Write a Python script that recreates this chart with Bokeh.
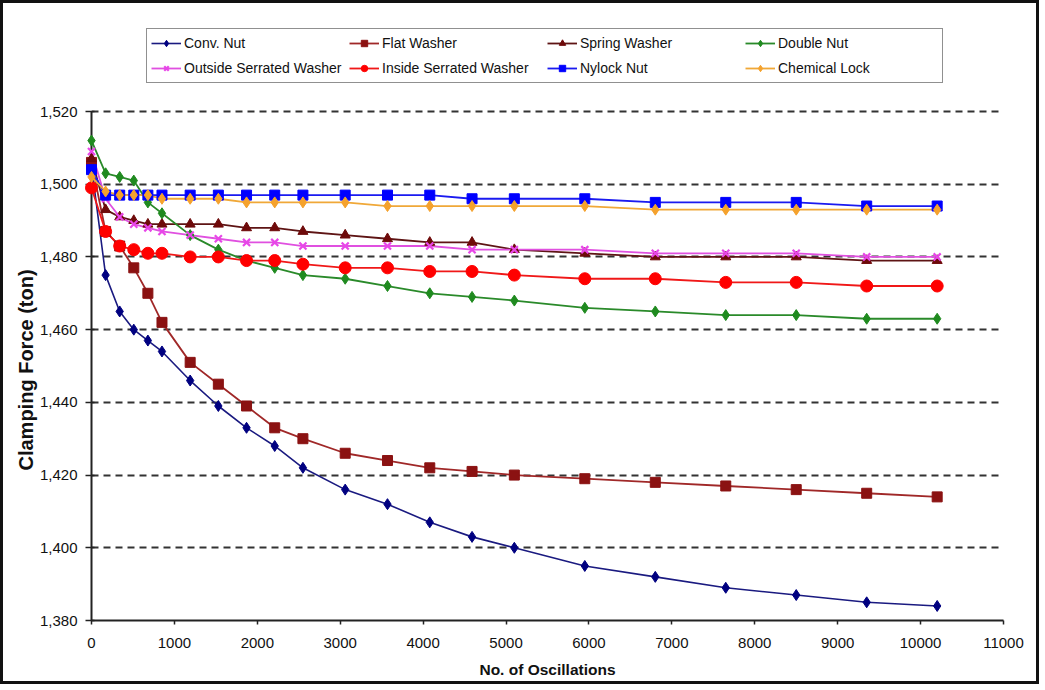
from bokeh.plotting import figure
from bokeh.models import Legend, LegendItem, FixedTicker, NumeralTickFormatter, Range1d, Title
from bokeh.embed import file_html
from bokeh.resources import INLINE

# ---- data ----
oscillations = [0, 170, 340, 510, 680, 850, 1190, 1530, 1870, 2210, 2550, 3060,
                3570, 4080, 4590, 5100, 5950, 6800, 7650, 8500, 9350, 10200]

conv_nut = [1505, 1475, 1465, 1460, 1457, 1454, 1446, 1439, 1433, 1428, 1422, 1416,
            1412, 1407, 1403, 1400, 1395, 1392, 1389, 1387, 1385, 1384]
flat_washer = [1506, 1487, 1483, 1477, 1470, 1462, 1451, 1445, 1439, 1433, 1430, 1426,
               1424, 1422, 1421, 1420, 1419, 1418, 1417, 1416, 1415, 1414]
spring_washer = [1507, 1493, 1491, 1490, 1489, 1489, 1489, 1489, 1488, 1488, 1487, 1486,
                 1485, 1484, 1484, 1482, 1481, 1480, 1480, 1480, 1479, 1479]
double_nut = [1512, 1503, 1502, 1501, 1495, 1492, 1486, 1482, 1479, 1477, 1475, 1474,
              1472, 1470, 1469, 1468, 1466, 1465, 1464, 1464, 1463, 1463]
outside_serrated = [1509, 1496, 1491, 1489, 1488, 1487, 1486, 1485, 1484, 1484, 1483, 1483,
                    1483, 1483, 1482, 1482, 1482, 1481, 1481, 1481, 1480, 1480]
inside_serrated = [1499, 1487, 1483, 1482, 1481, 1481, 1480, 1480, 1479, 1479, 1478, 1477,
                   1477, 1476, 1476, 1475, 1474, 1474, 1473, 1473, 1472, 1472]
nylock_nut = [1504, 1497, 1497, 1497, 1497, 1497, 1497, 1497, 1497, 1497, 1497, 1497,
              1497, 1497, 1496, 1496, 1496, 1495, 1495, 1495, 1494, 1494]
chemical_lock = [1502, 1498, 1497, 1497, 1497, 1496, 1496, 1496, 1495, 1495, 1495, 1495,
                 1494, 1494, 1494, 1494, 1494, 1493, 1493, 1493, 1493, 1493]

series_names = ["Conv. Nut", "Flat Washer", "Spring Washer", "Double Nut",
                "Outside Serrated Washer", "Inside Serrated Washer", "Nylock Nut", "Chemical Lock"]
series_values = [conv_nut, flat_washer, spring_washer, double_nut,
                 outside_serrated, inside_serrated, nylock_nut, chemical_lock]

x_ticks = list(range(0, 11001, 1000))
y_ticks = list(range(1380, 1521, 20))

# ---- styles ----
colors = ["#000080", "#8B1212", "#6E0A0A", "#1F8A1F", "#E846E8", "#FF0000", "#0000FF", "#F5A22D"]
line_colors = ["#1A1A80", "#A02828", "#5E1414", "#2A8A2A", "#E050E0", "#F01818", "#1A1AF0", "#F0A838"]
markers = ["diamond", "square", "triangle", "diamond", "x", "circle", "square", "diamond"]
msizes = [11, 10, 10, 11, 10, 12, 10, 11]
lwidths = [1.6, 1.8, 1.8, 1.8, 1.8, 1.8, 1.8, 1.8]

FONT = "Liberation Sans"

# frame extends above the top tick so the legend can sit inside it (top headroom in px)
HEAD_PX = 83.0
FRAME_H = 592.0
y_top = y_ticks[-1] + (y_ticks[-1] - y_ticks[0]) * HEAD_PX / (FRAME_H - HEAD_PX)

p = figure(width=1039, height=684, output_backend="svg", toolbar_location=None,
           x_range=Range1d(x_ticks[0], x_ticks[-1]), y_range=Range1d(y_ticks[0], y_top),
           min_border_left=88, min_border_right=39, min_border_top=25, min_border_bottom=67)
p.styles = {"border": "3px solid #111111"}
p.outline_line_color = None
p.background_fill_color = "white"
p.border_fill_color = "white"

items = {}
for name, vals, c, lc, m, ms, lw in zip(series_names, series_values, colors, line_colors,
                                         markers, msizes, lwidths):
    r1 = p.line(oscillations, vals, line_color=lc, line_width=lw)
    if m == "x":
        r2 = p.scatter(oscillations, vals, marker=m, size=ms, line_color=c, line_width=2.2,
                       level="overlay")
    else:
        r2 = p.scatter(oscillations, vals, marker=m, size=ms, fill_color=c, line_color=c,
                       level="overlay")
    items[name] = LegendItem(label=name, renderers=[r1, r2])

# legend fills column by column: reorder so rows read as in the reference
half = len(series_names) // 2
legend_order = []
for i in range(half):
    legend_order += [series_names[i], series_names[i + half]]

# axes
p.xaxis.ticker = FixedTicker(ticks=x_ticks)
p.yaxis.ticker = FixedTicker(ticks=y_ticks)
p.yaxis.bounds = (y_ticks[0], y_ticks[-1])
p.yaxis.formatter = NumeralTickFormatter(format="0,0")
p.xaxis.minor_tick_line_color = None
p.yaxis.minor_tick_line_color = None
for ax in (p.xaxis, p.yaxis):
    ax.axis_line_color = "#222222"
    ax.axis_line_width = 2
    ax.major_tick_line_color = "#222222"
    ax.major_tick_line_width = 1.5
    ax.major_label_text_font = FONT
    ax.major_label_text_font_size = "15px"
    ax.major_label_text_color = "#111111"
    ax.axis_label_text_font = FONT
    ax.axis_label_text_font_style = "bold"
    ax.axis_label_text_color = "#111111"
p.xaxis.major_tick_out = 4
p.xaxis.major_tick_in = 0
p.yaxis.major_tick_out = 6
p.yaxis.major_tick_in = 3
p.xaxis.major_label_standoff = 13
p.yaxis.major_label_standoff = 8
p.xaxis.axis_label = "No. of Oscillations"
p.xaxis.axis_label_text_font_size = "15.5px"
p.xaxis.axis_label_standoff = 10

# vertical axis title, placed along the tick range (not the whole frame)
ytitle = Title(text="Clamping Force (ton)", align="left", offset=150, standoff=0,
               text_font=FONT, text_font_size="20px", text_font_style="bold",
               text_color="#111111")
p.add_layout(ytitle, "left")

# grid
p.xgrid.grid_line_color = None
p.ygrid.grid_line_color = "#333333"
p.ygrid.grid_line_width = 2
p.ygrid.grid_line_dash = "7 5"

legend = Legend(items=[items[n] for n in legend_order], ncols=4, location=(55, 537),
                label_text_font=FONT, label_text_font_size="14px", label_text_color="#111111",
                glyph_width=30, glyph_height=16, label_standoff=3, label_width=160,
                label_height=20, spacing=5, padding=4, margin=0,
                border_line_color="#222222", border_line_width=1.5,
                background_fill_color="white", background_fill_alpha=1)
p.add_layout(legend, "center")

open("out.html", "w").write(file_html(p, INLINE))
